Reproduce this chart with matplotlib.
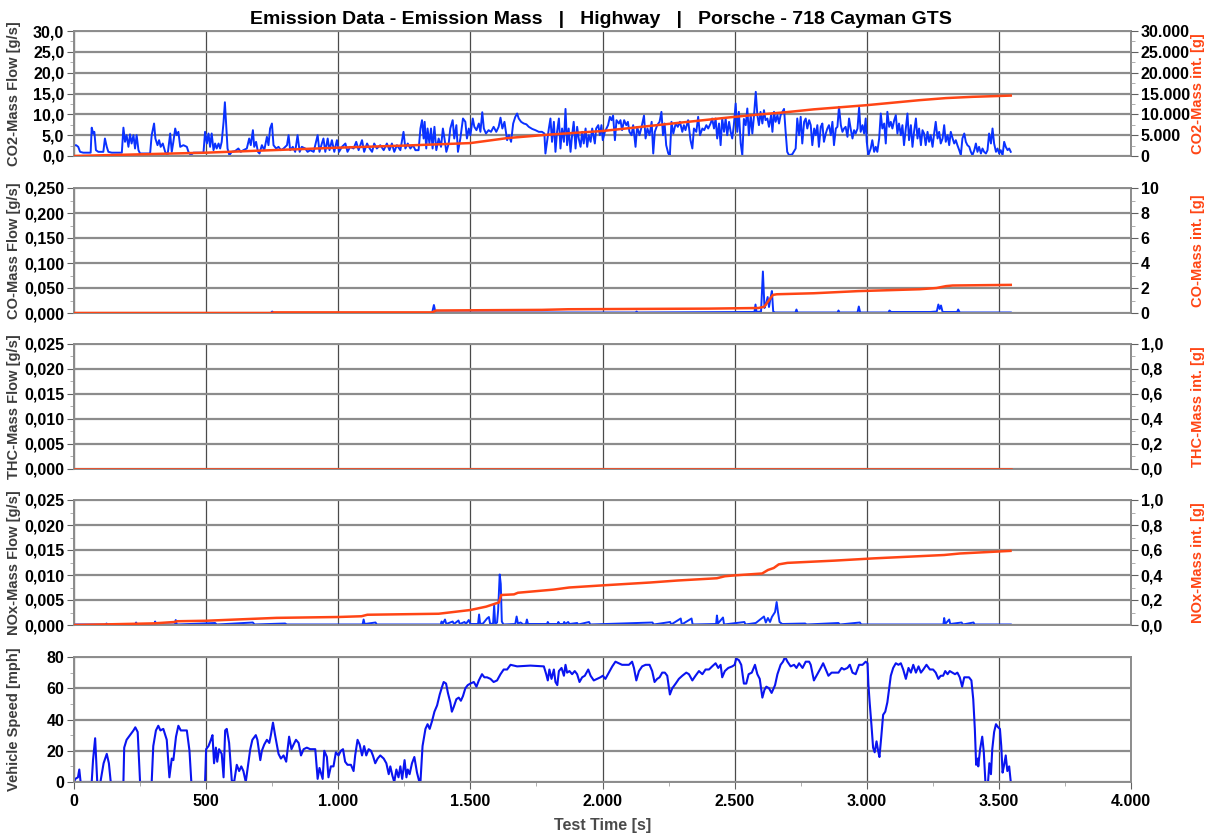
import matplotlib
matplotlib.use("Agg")
import matplotlib.pyplot as plt
from matplotlib.ticker import FuncFormatter, MultipleLocator

plt.rcParams['font.family'] = ['Liberation Sans', 'DejaVu Sans']
plt.rcParams['font.weight'] = 'bold'

# ---- data ----
co2_t = [0, 8, 16, 23, 35, 63, 67, 73, 77, 83, 92, 111, 117, 124, 130, 143, 181, 187, 193, 199,
         206, 212, 218, 225, 231, 237, 244, 250, 288, 294, 303, 308, 316, 322, 328, 336, 345, 354,
         364, 370, 376, 383, 389, 395, 402, 414, 427, 433, 442, 452, 490, 496, 503, 509, 515, 521,
         528, 534, 540, 547, 553, 559, 566, 571, 576, 581, 588, 597, 610, 622, 631, 641, 654, 663,
         669, 677, 682, 689, 696, 702, 711, 720, 730, 736, 742, 749, 755, 765, 774, 783, 793, 806,
         812, 818, 828, 837, 846, 854, 862, 875, 884, 894, 907, 922, 929, 938, 944, 951, 960, 967,
         976, 985, 995, 1003, 1014, 1027, 1035, 1045, 1058, 1068, 1077, 1090, 1098, 1109, 1119,
         1128, 1136, 1146, 1159, 1172, 1184, 1194, 1203, 1212, 1222, 1235, 1247, 1254, 1263, 1273,
         1283, 1292, 1304, 1311, 1317, 1323, 1327, 1333, 1338, 1345, 1351, 1357, 1364, 1371, 1380,
         1389, 1396, 1402, 1409, 1418, 1424, 1433, 1439, 1447, 1453, 1462, 1472, 1481, 1487, 1494,
         1500, 1509, 1515, 1523, 1532, 1538, 1545, 1551, 1559, 1569, 1578, 1588, 1598, 1607, 1614,
         1621, 1629, 1639, 1646, 1654, 1662, 1670, 1677, 1683, 1692, 1702, 1712, 1721, 1734, 1746,
         1759, 1771, 1780, 1784, 1790, 1797, 1803, 1809, 1816, 1822, 1828, 1835, 1841, 1847, 1854,
         1860, 1866, 1872, 1879, 1885, 1891, 1898, 1904, 1910, 1917, 1923, 1929, 1936, 1942, 1948,
         1955, 1961, 1971, 1976, 1984, 1990, 1996, 2001, 2009, 2015, 2021, 2028, 2034, 2040, 2047,
         2053, 2062, 2068, 2074, 2082, 2090, 2096, 2102, 2110, 2116, 2125, 2131, 2140, 2148, 2157,
         2163, 2170, 2178, 2186, 2192, 2198, 2207, 2216, 2223, 2229, 2235, 2241, 2249, 2255, 2261,
         2268, 2277, 2285, 2293, 2302, 2308, 2314, 2324, 2333, 2340, 2346, 2355, 2362, 2369, 2378,
         2385, 2393, 2400, 2409, 2415, 2422, 2428, 2434, 2441, 2447, 2453, 2460, 2466, 2472, 2479,
         2485, 2491, 2497, 2504, 2510, 2516, 2523, 2529, 2535, 2542, 2548, 2554, 2561, 2567, 2573,
         2580, 2586, 2592, 2598, 2605, 2611, 2617, 2624, 2630, 2638, 2643, 2649, 2655, 2662, 2668,
         2674, 2681, 2687, 2693, 2699, 2706, 2718, 2731, 2737, 2744, 2750, 2756, 2763, 2769, 2775,
         2782, 2788, 2794, 2801, 2807, 2813, 2819, 2826, 2832, 2838, 2845, 2851, 2857, 2864, 2870,
         2876, 2883, 2889, 2895, 2902, 2908, 2914, 2920, 2927, 2933, 2939, 2946, 2952, 2958, 2965,
         2971, 2977, 2984, 2990, 2996, 3000, 3006, 3015, 3021, 3028, 3034, 3040, 3047, 3053, 3059,
         3066, 3072, 3078, 3085, 3091, 3097, 3104, 3110, 3116, 3122, 3129, 3135, 3141, 3148, 3154,
         3160, 3167, 3173, 3179, 3186, 3192, 3198, 3205, 3211, 3217, 3223, 3230, 3236, 3242, 3249,
         3255, 3261, 3268, 3274, 3280, 3287, 3293, 3299, 3306, 3312, 3318, 3325, 3331, 3337, 3343,
         3350, 3356, 3362, 3369, 3375, 3381, 3388, 3394, 3400, 3407, 3413, 3419, 3425, 3432, 3438,
         3444, 3451, 3457, 3463, 3470, 3476, 3482, 3489, 3495, 3501, 3507, 3514, 3520, 3526, 3533,
         3539, 3545]
co2_flow = [2.5, 2.6, 2.2, 1.0, 0.8, 0.8, 6.8, 5.4, 5.8, 1.4, 1.0, 1.0, 4.2, 2.2, 1.0, 0.8, 0.8, 6.8,
            3.4, 5.0, 2.2, 5.2, 3.0, 5.0, 1.8, 5.0, 1.4, 0.6, 0.6, 5.0, 7.8, 4.2, 2.6, 3.8, 2.2, 3.0,
            1.0, 0.2, 5.4, 1.0, 3.4, 6.6, 5.0, 5.8, 2.2, 2.6, 2.2, 1.0, 0.2, 0.8, 0.8, 5.8, 3.0, 5.4,
            2.2, 5.4, 1.4, 3.0, 1.8, 3.0, 1.8, 3.4, 8.2, 12.9, 7.4, 1.8, 0.2, 1.0, 1.2, 1.8, 1.0, 1.4,
            1.8, 4.2, 2.6, 6.2, 2.2, 3.4, 1.0, 0.6, 2.6, 1.4, 4.6, 2.6, 6.6, 7.8, 2.6, 1.8, 2.2, 1.4,
            1.8, 2.6, 5.0, 1.4, 2.2, 1.0, 5.0, 1.0, 2.2, 1.8, 1.0, 1.4, 1.0, 5.0, 1.0, 3.0, 4.2, 1.0,
            4.2, 1.4, 3.8, 1.0, 3.8, 1.0, 2.2, 3.0, 1.0, 2.2, 1.8, 3.4, 1.4, 3.8, 1.0, 3.0, 1.8, 1.0,
            3.0, 1.8, 2.6, 1.4, 3.0, 1.4, 3.0, 1.0, 2.6, 1.4, 5.8, 1.8, 3.0, 1.8, 2.6, 1.4, 1.4, 6.6,
            8.6, 4.2, 8.2, 1.8, 6.6, 3.0, 6.6, 1.8, 7.0, 1.4, 4.2, 2.2, 6.6, 4.2, 1.0, 3.0, 6.6, 8.6,
            4.2, 7.4, 1.0, 4.2, 9.0, 8.2, 4.2, 6.6, 5.0, 9.0, 7.0, 6.2, 7.8, 5.8, 10.5, 6.6, 5.4, 6.2,
            5.8, 7.0, 5.8, 7.0, 9.2, 6.6, 8.2, 3.8, 5.0, 3.4, 7.8, 9.4, 10.2, 9.0, 8.2, 7.8, 7.6, 7.0,
            6.5, 6.2, 5.8, 5.8, 5.4, 0.6, 3.4, 6.6, 9.0, 3.4, 8.2, 1.0, 5.8, 9.0, 1.8, 6.6, 3.4, 11.3,
            2.6, 6.6, 1.0, 5.0, 8.2, 1.8, 7.0, 4.2, 2.2, 5.8, 3.0, 6.6, 2.2, 5.0, 3.4, 6.6, 3.0, 6.6,
            7.4, 5.0, 7.4, 3.8, 5.8, 6.6, 7.4, 9.4, 8.6, 9.7, 3.8, 8.6, 7.8, 8.6, 6.2, 8.6, 7.4, 8.2,
            5.8, 5.0, 7.4, 2.2, 7.0, 5.0, 7.0, 9.7, 4.2, 6.6, 5.0, 8.2, 0.6, 5.8, 7.4, 8.2, 10.6, 5.0,
            7.8, 2.6, 0.6, 0.2, 8.2, 5.4, 7.8, 7.0, 8.2, 5.8, 7.4, 6.2, 8.6, 3.8, 1.8, 6.6, 5.8, 9.4,
            5.0, 6.6, 6.2, 7.4, 6.6, 7.8, 9.0, 6.6, 9.0, 4.2, 7.8, 2.6, 9.0, 5.8, 9.0, 5.0, 8.2, 5.8,
            4.2, 7.4, 12.6, 5.8, 10.6, 3.0, 0.2, 8.9, 7.4, 11.4, 5.0, 9.8, 5.4, 9.4, 15.4, 9.8, 7.4,
            10.6, 7.8, 11.0, 8.6, 9.0, 7.0, 9.8, 5.8, 10.6, 8.2, 9.8, 7.8, 9.8, 10.6, 11.3, 5.8, 1.0,
            0.2, 0.4, 1.8, 9.0, 5.0, 9.4, 3.0, 8.2, 9.0, 6.6, 8.6, 7.4, 2.6, 6.6, 5.0, 7.4, 2.2, 7.0,
            7.8, 3.4, 5.4, 6.6, 7.4, 5.0, 8.2, 2.6, 6.6, 7.0, 11.8, 7.4, 5.8, 6.6, 7.0, 4.6, 9.0, 6.6,
            4.2, 6.2, 5.4, 6.6, 11.6, 5.8, 7.4, 5.4, 9.0, 3.4, 0.2, 1.8, 3.8, 1.0, 2.2, 1.0, 4.2, 10.2,
            6.6, 7.8, 3.0, 10.6, 7.0, 8.2, 6.6, 8.6, 9.8, 5.4, 7.8, 5.0, 7.4, 2.6, 6.6, 10.2, 3.8, 7.4,
            2.2, 5.8, 9.0, 4.2, 6.6, 2.6, 6.2, 5.4, 2.6, 5.8, 3.4, 5.0, 2.2, 5.4, 8.2, 4.2, 5.8, 3.0,
            4.2, 7.4, 3.4, 5.0, 2.6, 5.8, 4.2, 3.0, 3.8, 2.6, 1.4, 0.2, 4.2, 5.4, 3.4, 2.6, 2.2, 1.0,
            0.2, 1.4, 3.0, 1.0, 2.2, 0.6, 1.8, 1.0, 0.6, 1.4, 5.4, 3.0, 6.6, 3.0, 1.0, 1.8, 0.6, 1.4,
            0.2, 3.4, 2.2, 1.4, 1.8, 1.0]
co2_int_t = [0, 250, 500, 750, 1000, 1250, 1500, 1640, 1790, 2000, 2250, 2500, 2600, 2693, 2800,
             3000, 3100, 3200, 3300, 3400, 3545]
co2_int = [0, 400, 800, 1400, 2000, 2500, 3100, 4300, 5100, 6000, 7700, 9400, 10000, 10500, 11200,
           12200, 12800, 13400, 13900, 14200, 14500]

co_t = [0, 745, 750, 756, 1355, 1362, 1368, 2125, 2129, 2133, 2575, 2579, 2583, 2600, 2607, 2613,
        2619, 2625, 2630, 2636, 2641, 2646, 2652, 2730, 2734, 2738, 2890, 2893, 2897, 2965, 2970,
        2975, 3082, 3086, 3092, 3240, 3265, 3271, 3276, 3281, 3287, 3342, 3346, 3352, 3545]
co_flow = [0, 0, 0.003, 0, 0, 0.016, 0.001, 0.001, 0.003, 0.001, 0.002, 0.017, 0.002, 0.003, 0.083,
           0.01, 0.019, 0.032, 0.012, 0.03, 0.044, 0.003, 0.001, 0.001, 0.007, 0.001, 0.001, 0.005,
           0.001, 0.001, 0.013, 0.001, 0.001, 0.005, 0.002, 0.002, 0.003, 0.017, 0.008, 0.015, 0.002,
           0.002, 0.007, 0.001, 0.001]
co_int_t = [0, 750, 755, 1355, 1370, 1770, 1870, 2400, 2590, 2612, 2645, 2660, 2800, 2967, 3200,
            3264, 3300, 3325, 3545]
co_int = [0, 0, 0.05, 0.05, 0.2, 0.25, 0.3, 0.35, 0.4, 0.5, 1.45, 1.5, 1.58, 1.75, 1.9, 2.0, 2.15,
          2.2, 2.25]

thc_t = [0, 3545]
thc_flow = [0, 0]
thc_int = [0, 0]

nox_t = [0, 120, 123, 127, 232, 235, 239, 304, 307, 311, 382, 385, 389, 534, 540, 677, 683, 799,
         805, 1092, 1096, 1100, 1141, 1146, 1388, 1391, 1395, 1404, 1409, 1433, 1438, 1455, 1460,
         1478, 1483, 1494, 1500, 1529, 1533, 1537, 1548, 1563, 1570, 1575, 1586, 1590, 1594, 1601,
         1605, 1611, 1615, 1619, 1625, 1670, 1675, 1680, 1690, 1700, 1710, 1714, 1718, 1790, 1793,
         1797, 1830, 1833, 1837, 1852, 1855, 1860, 1870, 1875, 1904, 1908, 1949, 1954, 2189, 2194,
         2256, 2260, 2296, 2300, 2337, 2341, 2430, 2433, 2437, 2456, 2460, 2537, 2541, 2580, 2611,
         2618, 2626, 2634, 2641, 2653, 2659, 2664, 2670, 2680, 2767, 2772, 2893, 2898, 2974, 2979,
         3290, 3293, 3297, 3312, 3316, 3359, 3364, 3404, 3408, 3545]
nox_flow = [0.0001, 0.0001, 0.0003, 0.0001, 0.0001, 0.0005, 0.0001, 0.0001, 0.0007, 0.0001, 0.0001,
            0.001, 0.0001, 0.0004, 0.0001, 0.0005, 0.0001, 0.0003, 0.0001, 0.0001, 0.0011, 0.0002,
            0.0005, 0.0001, 0.0001, 0.0007, 0.0002, 0.0011, 0.0002, 0.0007, 0.0002, 0.0009, 0.0002,
            0.0006, 0.0002, 0.001, 0.0002, 0.0002, 0.0021, 0.0002, 0.0003, 0.0013, 0.0016, 0.0002,
            0.0003, 0.004, 0.0002, 0.0005, 0.0029, 0.0101, 0.0082, 0.0007, 0.0001, 0.0002, 0.0017,
            0.0003, 0.0005, 0.0001, 0.0002, 0.0011, 0.0002, 0.0002, 0.0006, 0.0002, 0.0002, 0.0006,
            0.0002, 0.0002, 0.0006, 0.0002, 0.0006, 0.0002, 0.0004, 0.0001, 0.0006, 0.0001, 0.0005,
            0.0001, 0.0006, 0.0001, 0.0013, 0.0001, 0.0013, 0.0001, 0.0002, 0.0019, 0.0003, 0.0015,
            0.0001, 0.0006, 0.0001, 0.0004, 0.0017, 0.0005, 0.0014, 0.0006, 0.0016, 0.0026, 0.0046,
            0.0026, 0.0006, 0.0002, 0.0003, 0.0001, 0.0004, 0.0001, 0.0005, 0.0001, 0.0001, 0.0014,
            0.0002, 0.0011, 0.0002, 0.0005, 0.0001, 0.0005, 0.0001, 0.0001]
nox_int_t = [0, 123, 302, 380, 390, 500, 766, 1000, 1088, 1110, 1380, 1500, 1560, 1597, 1608, 1617,
             1665, 1680, 1814, 1874, 2000, 2181, 2285, 2433, 2463, 2500, 2604, 2626, 2648, 2667,
             2700, 2878, 3026, 3293, 3352, 3544]
nox_int = [0, 0.005, 0.013, 0.024, 0.03, 0.034, 0.057, 0.064, 0.07, 0.082, 0.09, 0.12, 0.147, 0.173,
           0.18, 0.24, 0.245, 0.258, 0.283, 0.3, 0.317, 0.34, 0.356, 0.374, 0.39, 0.397, 0.412,
           0.44, 0.456, 0.485, 0.497, 0.515, 0.533, 0.56, 0.572, 0.593]

speed_t = [0, 5, 15, 20, 25, 67, 72, 80, 88, 100, 112, 124, 132, 139, 187, 190, 199, 212, 225, 232,
           241, 250, 294, 300, 310, 319, 327, 338, 351, 361, 370, 376, 386, 395, 404, 427, 437, 444,
           496, 500, 509, 518, 524, 530, 537, 542, 549, 559, 566, 572, 578, 587, 597, 606, 616, 625,
           633, 641, 650, 658, 667, 675, 688, 694, 705, 711, 720, 730, 739, 745, 753, 761, 774, 783,
           793, 803, 814, 823, 831, 840, 850, 859, 869, 881, 894, 913, 922, 929, 934, 941, 947, 957,
           963, 972, 982, 991, 1001, 1010, 1018, 1026, 1035, 1048, 1058, 1064, 1073, 1081, 1090,
           1098, 1106, 1115, 1124, 1131, 1140, 1149, 1159, 1172, 1182, 1191, 1197, 1205, 1212, 1220,
           1228, 1235, 1242, 1251, 1258, 1263, 1270, 1279, 1288, 1298, 1307, 1311, 1319, 1330, 1338,
           1346, 1355, 1364, 1374, 1384, 1393, 1399, 1408, 1415, 1424, 1430, 1437, 1447, 1456, 1464,
           1472, 1481, 1490, 1500, 1513, 1523, 1532, 1544, 1553, 1563, 1576, 1588, 1601, 1614, 1626,
           1639, 1652, 1677, 1727, 1778, 1787, 1793, 1799, 1807, 1816, 1822, 1829, 1835, 1845, 1854,
           1860, 1866, 1875, 1885, 1895, 1904, 1913, 1923, 1933, 1946, 1955, 1967, 1980, 1992, 2001,
           2011, 2024, 2037, 2049, 2062, 2074, 2087, 2100, 2112, 2119, 2128, 2138, 2150, 2163, 2178,
           2188, 2197, 2207, 2216, 2226, 2236, 2245, 2255, 2264, 2277, 2289, 2302, 2317, 2327, 2340,
           2352, 2365, 2378, 2390, 2403, 2415, 2428, 2438, 2447, 2453, 2463, 2476, 2491, 2500, 2506,
           2516, 2525, 2535, 2544, 2553, 2565, 2577, 2586, 2595, 2605, 2613, 2620, 2630, 2640, 2653,
           2662, 2674, 2683, 2691, 2700, 2712, 2725, 2734, 2744, 2757, 2769, 2782, 2788, 2800, 2813,
           2826, 2835, 2845, 2855, 2867, 2880, 2893, 2905, 2914, 2927, 2936, 2946, 2958, 2971, 2984,
           2996, 3003, 3006, 3011, 3018, 3024, 3030, 3037, 3043, 3048, 3055, 3062, 3070, 3078, 3085,
           3091, 3100, 3110, 3120, 3129, 3138, 3148, 3158, 3167, 3176, 3186, 3196, 3205, 3214, 3226,
           3239, 3251, 3261, 3271, 3280, 3289, 3297, 3306, 3314, 3324, 3334, 3343, 3352, 3361, 3369,
           3381, 3387, 3396, 3403, 3409, 3414, 3420, 3422, 3429, 3437, 3443, 3449, 3459, 3464, 3470,
           3475, 3482, 3489, 3497, 3504, 3509, 3514, 3520, 3526, 3532, 3539, 3545]
speed = [0, 2, 3, 8, 0, 0, 14, 28, 0, 0, 12, 18, 12, 0, 0, 22, 27, 30, 33, 35, 32, 0, 0, 23, 33, 36,
         33, 34, 27, 3, 15, 14, 29, 36, 33, 33, 20, 0, 0, 21, 23, 27, 30, 12, 22, 13, 21, 18, 3, 33,
         34, 25, 1, 0, 11, 7, 10, 7, 0, 10, 21, 27, 30, 27, 14, 20, 24, 27, 25, 30, 38, 30, 18, 15,
         17, 13, 29, 21, 24, 27, 25, 17, 21, 22, 21, 21, 2, 9, 6, 2, 20, 16, 3, 10, 10, 19, 17, 20,
         21, 13, 11, 11, 7, 17, 27, 24, 17, 23, 17, 21, 20, 17, 12, 15, 17, 15, 12, 5, 10, 4, 0, 8,
         3, 10, 2, 14, 3, 8, 5, 12, 16, 6, 0, 0, 23, 34, 37, 34, 39, 45, 49, 56, 61, 64, 63, 57, 51,
         45, 48, 53, 54, 52, 55, 60, 62, 63, 64, 61, 65, 69, 67, 67, 66, 64, 65, 69, 72, 72, 75, 74,
         74.5, 74, 69, 65, 72, 66, 72, 64, 62, 71, 73, 68, 75, 70, 71, 69, 71, 69, 64, 67, 68, 72, 68,
         65, 66, 67, 68, 66, 70, 74, 77, 76, 75, 75, 75, 77, 73, 65, 71, 74, 75, 75, 71, 64, 66, 67,
         70, 70, 68, 56, 60, 63, 66, 68, 70, 69, 65, 68, 71, 69, 72, 72, 74, 76, 73, 75, 67, 71, 73,
         74, 75, 79, 78, 75, 63, 63, 69, 70, 75, 69, 66, 54, 59, 61, 60, 57, 62, 69, 75, 77, 80, 77,
         74, 75, 73, 76, 73, 77, 77, 75, 65, 69, 73, 76, 72, 68, 70, 70, 70, 73, 72, 73, 75, 70, 69,
         75, 75, 77, 76, 63, 51, 36, 22, 19, 26, 20, 16, 29, 43, 45, 51, 60, 68, 73, 76, 75, 76, 72,
         66, 73, 70, 75, 70, 74, 70, 72, 75, 72, 72, 70, 66, 68, 68, 71, 69, 71, 70, 69, 70, 67, 61,
         67, 67, 67, 65, 53, 34, 11, 15, 10, 21, 29, 19, 0, 0, 12, 5, 21, 32, 37, 35, 34, 23, 6, 11,
         17, 7, 10, 0]

title = "Emission Data - Emission Mass   |   Highway   |   Porsche - 718 Cayman GTS"
left_labels = ["CO2-Mass Flow [g/s]", "CO-Mass Flow [g/s]", "THC-Mass Flow [g/s]",
               "NOx-Mass Flow [g/s]", "Vehicle Speed [mph]"]
right_labels = ["CO2-Mass int. [g]", "CO-Mass int. [g]", "THC-Mass int. [g]", "NOx-Mass int. [g]"]

BLUE = "#0a32ff"
ORANGE = "#ff4515"
GRID_H = "#8c8c8c"
GRID_V = "#4a4a4a"


def de_fmt(decimals):
    # German number style: comma decimals, dot thousands
    def f(v, pos):
        s = f"{v:,.{decimals}f}"
        return s.replace(",", "X").replace(".", ",").replace("X", ".")
    return FuncFormatter(f)


fig = plt.figure(figsize=(12.12, 8.36), dpi=100)
L, W = 74 / 1212, 1057 / 1212
tops = [31, 188, 344, 500, 657]
H = 125 / 836

panels = [
    (co2_t, co2_flow, co2_int_t, co2_int, 30, 5, 1, 30000, 5000, 0),
    (co_t, co_flow, co_int_t, co_int, 0.25, 0.05, 3, 10, 2, 0),
    (thc_t, thc_flow, thc_t, thc_int, 0.025, 0.005, 3, 1.0, 0.2, 1),
    (nox_t, nox_flow, nox_int_t, nox_int, 0.025, 0.005, 3, 1.0, 0.2, 1),
]

axes = []
for i, top in enumerate(tops):
    ax = fig.add_axes([L, 1 - (top + 125) / 836, W, H])
    axes.append(ax)
    ax.set_xlim(0, 4000)
    ax.xaxis.set_major_locator(MultipleLocator(500))
    ax.grid(axis='x', color=GRID_V, lw=0.9)
    ax.grid(axis='y', color=GRID_H, lw=1.6)
    ax.set_axisbelow(True)
    for sp in ax.spines.values():
        sp.set_color(GRID_H)
        sp.set_linewidth(1.4)
    ax.tick_params(axis='y', which='major', length=5, color='#606060', labelsize=11.5,
                   labelcolor='black', pad=2)
    ax.tick_params(axis='y', which='minor', length=3, color='#a0a0a0')
    ax.set_ylabel(left_labels[i], fontsize=10.5, color='#3c3c3c', fontweight='bold')
    ax.yaxis.set_label_coords(-0.05, 0.5)
    if i < 4:
        ax.tick_params(axis='x', which='both', length=0, labelbottom=False)

for i, (t, flow, ti, integ, ymax, ystep, dec, rmax, rstep, rdec) in enumerate(panels):
    ax = axes[i]
    ax.plot(t, flow, color=BLUE, lw=1.4)
    ax.set_ylim(0, ymax)
    ax.yaxis.set_major_locator(MultipleLocator(ystep))
    ax.yaxis.set_minor_locator(MultipleLocator(ystep / 2))
    ax.yaxis.set_major_formatter(de_fmt(dec))

    axr = ax.twinx()
    axr.plot(ti, integ, color=ORANGE, lw=1.8)
    axr.set_xlim(0, 4000)
    axr.set_ylim(0, rmax)
    axr.yaxis.set_major_locator(MultipleLocator(rstep))
    axr.yaxis.set_minor_locator(MultipleLocator(rstep / 2))
    axr.yaxis.set_major_formatter(de_fmt(rdec))
    for sp in axr.spines.values():
        sp.set_visible(False)
    axr.tick_params(axis='y', which='major', length=5, color='#606060', labelsize=11.5, pad=2)
    axr.tick_params(axis='y', which='minor', length=3, color='#a0a0a0')
    axr.set_ylabel(right_labels[i], fontsize=10.5, color=ORANGE, fontweight='bold')
    axr.yaxis.set_label_coords(1.057, 0.5)

# vehicle speed
ax = axes[4]
ax.plot(speed_t, speed, color="#0a14f0", lw=1.5)
ax.set_ylim(0, 80)
ax.yaxis.set_major_locator(MultipleLocator(20))
ax.yaxis.set_minor_locator(MultipleLocator(10))
ax.yaxis.set_major_formatter(de_fmt(0))
ax.xaxis.set_minor_locator(MultipleLocator(250))
ax.xaxis.set_major_formatter(de_fmt(0))
ax.tick_params(axis='x', which='major', length=5, color='#606060', labelsize=11.5, pad=4)
ax.tick_params(axis='x', which='minor', length=3, color='#a0a0a0')
ax.set_xlabel("Test Time [s]", fontsize=11.5, color='#4a4a4a', fontweight='bold', labelpad=6)

fig.suptitle(title, x=0.496, y=0.987, fontsize=14, fontweight='bold')

fig.savefig("out.png", dpi=100)
